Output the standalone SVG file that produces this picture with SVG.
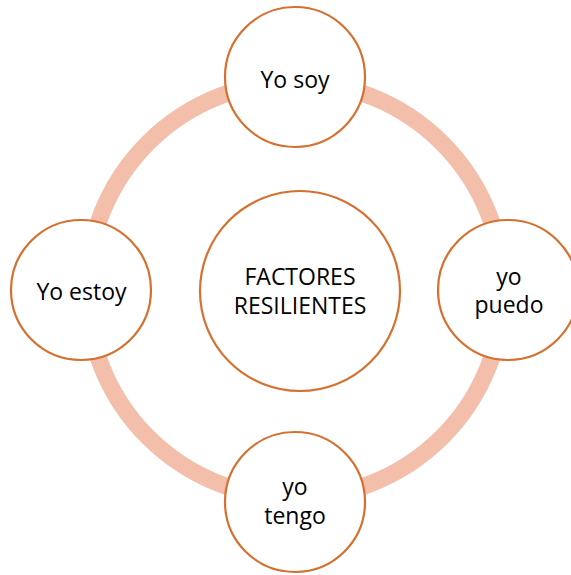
<svg xmlns="http://www.w3.org/2000/svg" width="571" height="575" viewBox="0 0 571 575">
<style>
.node{fill:#ffffff;stroke:#D5702F;stroke-width:2.2}
.lbl{font-family:"Open Sans","Liberation Sans",sans-serif;font-size:23px;fill:#000000;text-anchor:middle}
.ring{fill:none;stroke:#F3BFAB;stroke-width:17}
</style>
<rect width="571" height="575" fill="#ffffff"/>
<g id="connectors">
<circle class="ring" cx="295" cy="290" r="208"/>
</g>
<g id="center">
<circle class="node" cx="300" cy="291" r="100"/>
<text class="lbl" x="300" y="285">FACTORES</text>
<text class="lbl" x="300" y="314">RESILIENTES</text>
</g>
<g id="yo-soy">
<circle class="node" cx="295" cy="77" r="70"/>
<text class="lbl" x="295" y="88">Yo soy</text>
</g>
<g id="yo-estoy">
<circle class="node" cx="81" cy="290" r="70"/>
<text class="lbl" x="81.5" y="300">Yo estoy</text>
</g>
<g id="yo-puedo">
<circle class="node" cx="508" cy="290" r="70"/>
<text class="lbl" x="509" y="285">yo</text>
<text class="lbl" x="509" y="313">puedo</text>
</g>
<g id="yo-tengo">
<circle class="node" cx="295" cy="502" r="70"/>
<text class="lbl" x="295" y="495">yo</text>
<text class="lbl" x="295" y="524">tengo</text>
</g>
</svg>
